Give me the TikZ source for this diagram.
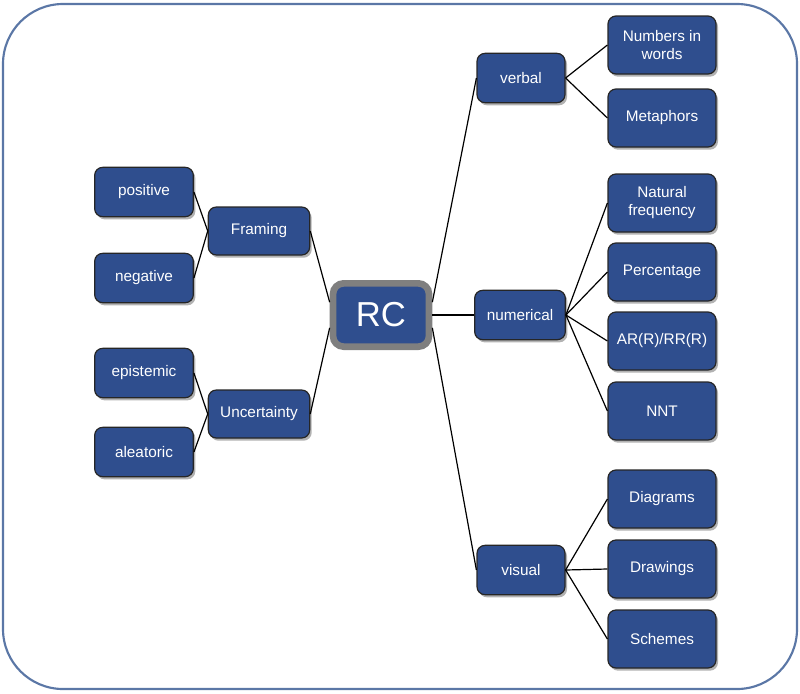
\documentclass[tikz,border=0pt]{standalone}
\usepackage{fontspec}
\setmainfont{Liberation Sans}
\usepackage{tikz}
\usetikzlibrary{shadows}

\definecolor{boxblue}{HTML}{2F4E8E}
\definecolor{frameblue}{HTML}{5B77A6}
\definecolor{rcgray}{HTML}{7F7F7F}

\begin{document}
\begin{tikzpicture}[
  x=0.75pt, y=-0.75pt,
  box/.style={draw=black!85, fill=boxblue, text=white, rounded corners=6pt, line width=0.9pt,
    align=center, font=\fontsize{11.5}{13.5}\selectfont, inner sep=2pt,
    drop shadow={shadow xshift=1.5pt, shadow yshift=-2pt, opacity=0.3, fill=black}},
  leaf/.style={box, minimum width=74pt, minimum height=37pt},
  mid/.style={box, minimum width=76pt, minimum height=36pt},
  branch/.style={box, minimum width=66pt, minimum height=37pt},
  item/.style={box, minimum width=81pt, minimum height=43.5pt},
  link/.style={line width=0.9pt, black}
]
\useasboundingbox (0,0) rectangle (800,693);
\draw[frameblue, line width=1.6pt, rounded corners=45pt] (3,4) rectangle (797,689);

% centre
\node[box, draw=rcgray, line width=5pt, rounded corners=8pt, minimum width=72pt, minimum height=47.5pt,
  font=\fontsize{26}{30}\selectfont] (rc) at (381,315) {RC};

% left side
\node[mid]  (framing) at (259,231) {Framing};
\node[mid]  (uncert)  at (259,414) {Uncertainty};
\node[leaf] (pos)     at (144,192) {positive};
\node[leaf] (neg)     at (144,278) {negative};
\node[leaf] (epi)     at (144,373) {epistemic};
\node[leaf] (alea)    at (144,452) {aleatoric};

% right side
\node[branch] (verbal) at (521,78)  {verbal};
\node[branch, minimum width=68pt] (numer) at (520,315) {numerical};
\node[branch] (visual) at (521,570) {visual};

\node[item] (words)  at (662,45)  {Numbers in\\words};
\node[item] (meta)   at (662,118) {Metaphors};
\node[item] (natfr)  at (662,203) {Natural\\frequency};
\node[item] (perc)   at (662,272) {Percentage};
\node[item] (arrr)   at (662,341) {AR(R)/RR(R)};
\node[item] (nnt)    at (662,411) {NNT};
\node[item] (diag)   at (662,499) {Diagrams};
\node[item] (draw)   at (662,569) {Drawings};
\node[item] (schem)  at (662,639) {Schemes};

% connectors
\draw[link] (pos.east)  -- (framing.west);
\draw[link] (neg.east)  -- (framing.west);
\draw[link] (epi.east)  -- (uncert.west);
\draw[link] (alea.east) -- (uncert.west);
\draw[link] (framing.east) -- (rc.166);
\draw[link] (uncert.east)  -- (rc.194);
\draw[link] (rc.14)   -- (verbal.west);
\draw[link] (rc.east) -- (numer.west);
\draw[link] (rc.-14)  -- (visual.west);
\draw[link] (verbal.east) -- (words.west);
\draw[link] (verbal.east) -- (meta.west);
\draw[link] (numer.east) -- (natfr.west);
\draw[link] (numer.east) -- (perc.west);
\draw[link] (numer.east) -- (arrr.west);
\draw[link] (numer.east) -- (nnt.west);
\draw[link] (visual.east) -- (diag.west);
\draw[link] (visual.east) -- (draw.west);
\draw[link] (visual.east) -- (schem.west);
\end{tikzpicture}
\end{document}
